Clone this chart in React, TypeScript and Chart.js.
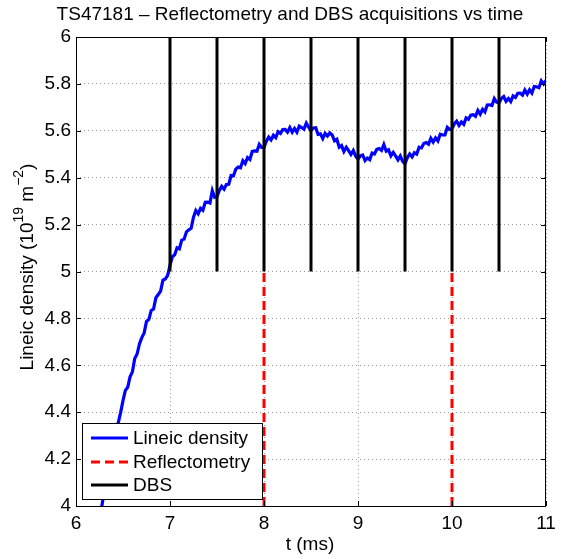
import React, { useEffect, useRef } from "react";
import { Chart, registerables } from "chart.js";

Chart.register(...registerables);

// ---- data ----
const densityStart = 6.2; // ms, first sample
const densityStep = 0.025; // ms between samples
const densityValues = [
  3.868, 3.904, 3.972, 4.0, 4.064, 4.096, 4.17, 4.202, 4.247, 4.325,
  4.356, 4.399, 4.449, 4.493, 4.506, 4.551, 4.572, 4.629, 4.648, 4.691,
  4.718, 4.738, 4.787, 4.796, 4.834, 4.84, 4.888, 4.902, 4.916, 4.963,
  4.968, 4.984, 5.026, 5.063, 5.071, 5.101, 5.097, 5.134, 5.138, 5.169,
  5.178, 5.184, 5.232, 5.26, 5.246, 5.269, 5.261, 5.295, 5.296, 5.292,
  5.345, 5.316, 5.319, 5.346, 5.363, 5.351, 5.371, 5.372, 5.409, 5.408,
  5.436, 5.445, 5.442, 5.472, 5.46, 5.486, 5.478, 5.512, 5.514, 5.513,
  5.542, 5.529, 5.529, 5.556, 5.573, 5.561, 5.581, 5.571, 5.596, 5.589,
  5.605, 5.606, 5.594, 5.614, 5.594, 5.61, 5.594, 5.62, 5.614, 5.607,
  5.633, 5.616, 5.601, 5.612, 5.613, 5.585, 5.587, 5.567, 5.589, 5.578,
  5.591, 5.582, 5.557, 5.564, 5.53, 5.537, 5.512, 5.53, 5.515, 5.499,
  5.516, 5.492, 5.479, 5.493, 5.497, 5.473, 5.484, 5.477, 5.505, 5.501,
  5.521, 5.524, 5.516, 5.541, 5.513, 5.519, 5.493, 5.508, 5.493, 5.476,
  5.493, 5.47, 5.459, 5.485, 5.501, 5.489, 5.507, 5.501, 5.53, 5.527,
  5.546, 5.55, 5.543, 5.568, 5.552, 5.57, 5.557, 5.585, 5.582, 5.582,
  5.615, 5.606, 5.609, 5.63, 5.641, 5.623, 5.638, 5.628, 5.655, 5.649,
  5.667, 5.669, 5.662, 5.687, 5.671, 5.692, 5.681, 5.71, 5.711, 5.708,
  5.737, 5.722, 5.719, 5.738, 5.746, 5.726, 5.738, 5.725, 5.749, 5.742,
  5.76, 5.761, 5.752, 5.774, 5.756, 5.775, 5.761, 5.789, 5.788, 5.784,
  5.813, 5.8, 5.815,
];
const reflectometryTimes = [8, 10];
const reflectometryRange = [4, 5];
const dbsTimes = [7, 7.5, 8, 8.5, 9, 9.5, 10, 10.5];
const dbsRange = [5, 6];
const xTickValues = [6, 7, 8, 9, 10, 11];
const yTickValues = [4, 4.2, 4.4, 4.6, 4.8, 5, 5.2, 5.4, 5.6, 5.8, 6];
const legendLabels = ["Lineic density", "Reflectometry", "DBS"];
const titleText = "TS47181 \u2013 Reflectometry and DBS acquisitions vs time";
const xLabel = "t (ms)";

const FONT = '"Liberation Sans", Arial, Helvetica, sans-serif';
const BLUE = "#0000ff";
const RED = "#ff0000";
const BLACK = "#000000";
const GRID = "#9a9a9a";

function verticalSegments(times: number[], range: number[]) {
  const pts: { x: number; y: number | null }[] = [];
  times.forEach((t) => {
    pts.push({ x: t, y: range[0] });
    pts.push({ x: t, y: range[1] });
    pts.push({ x: t, y: null });
  });
  return pts;
}

const decorPlugin = {
  id: "decor",
  afterDatasetsDraw(chart: any) {
    const { ctx, chartArea, scales } = chart;
    const { left, right, top, bottom } = chartArea;
    ctx.save();
    ctx.strokeStyle = BLACK;
    ctx.lineWidth = 1;
    ctx.setLineDash([]);
    ctx.strokeRect(left + 0.5, top + 0.5, right - left - 1, bottom - top);
    ctx.beginPath();
    xTickValues.forEach((v) => {
      const px = Math.round(scales.x.getPixelForValue(v)) + 0.5;
      ctx.moveTo(px, bottom);
      ctx.lineTo(px, bottom - 5);
      ctx.moveTo(px, top);
      ctx.lineTo(px, top + 5);
    });
    yTickValues.forEach((v) => {
      const py = Math.round(scales.y.getPixelForValue(v)) + 0.5;
      ctx.moveTo(left, py);
      ctx.lineTo(left + 5, py);
      ctx.moveTo(right, py);
      ctx.lineTo(right - 5, py);
    });
    ctx.stroke();
    ctx.restore();
  },
  afterDraw(chart: any) {
    const { ctx } = chart;
    ctx.save();
    // title
    ctx.fillStyle = BLACK;
    ctx.font = `19px ${FONT}`;
    ctx.textAlign = "center";
    ctx.textBaseline = "alphabetic";
    ctx.fillText(titleText, 290, 20);
    // x label
    ctx.fillText(xLabel, 310, 550);
    // y label with superscripts
    const parts = [
      { t: "Lineic density (10", sup: false },
      { t: "19", sup: true },
      { t: " m", sup: false },
      { t: "\u22122", sup: true },
      { t: ")", sup: false },
    ];
    const mainFont = `19px ${FONT}`;
    const supFont = `14px ${FONT}`;
    let total = 0;
    parts.forEach((p) => {
      ctx.font = p.sup ? supFont : mainFont;
      total += ctx.measureText(p.t).width;
    });
    ctx.translate(33, 267);
    ctx.rotate(-Math.PI / 2);
    ctx.textAlign = "left";
    let xx = -total / 2;
    parts.forEach((p) => {
      ctx.font = p.sup ? supFont : mainFont;
      ctx.fillText(p.t, xx, p.sup ? -10 : 0);
      xx += ctx.measureText(p.t).width;
    });
    ctx.restore();

    // legend box
    ctx.save();
    const bx = 82.5, by = 423.5, bw = 180, bh = 76;
    ctx.fillStyle = "#ffffff";
    ctx.fillRect(bx, by, bw, bh);
    ctx.strokeStyle = BLACK;
    ctx.lineWidth = 1;
    ctx.strokeRect(bx, by, bw, bh);
    const rows = [438, 462, 485];
    const colors = [BLUE, RED, BLACK];
    const dashes = [[], [9, 5], []];
    rows.forEach((ry, i) => {
      ctx.beginPath();
      ctx.strokeStyle = colors[i];
      ctx.lineWidth = 3;
      ctx.setLineDash(dashes[i]);
      ctx.moveTo(91, ry);
      ctx.lineTo(128, ry);
      ctx.stroke();
      ctx.setLineDash([]);
      ctx.fillStyle = BLACK;
      ctx.font = `19px ${FONT}`;
      ctx.textAlign = "left";
      ctx.textBaseline = "middle";
      ctx.fillText(legendLabels[i], 133, ry + 1);
    });
    ctx.restore();
  },
};

export default function App() {
  const canvasRef = useRef<HTMLCanvasElement | null>(null);

  useEffect(() => {
    document.body.style.margin = "0";
    const canvas = canvasRef.current;
    if (!canvas) return;
    const densityData = densityValues.map((v, i) => ({
      x: Math.round((densityStart + i * densityStep) * 1000) / 1000,
      y: v,
    }));
    const chart = new Chart(canvas, {
      type: "line",
      data: {
        datasets: [
          {
            label: legendLabels[0],
            data: densityData,
            borderColor: BLUE,
            borderWidth: 3.2,
            pointRadius: 0,
            tension: 0,
            order: 3,
          },
          {
            label: legendLabels[1],
            data: verticalSegments(reflectometryTimes, reflectometryRange),
            borderColor: RED,
            borderWidth: 3,
            borderDash: [9, 5],
            pointRadius: 0,
            spanGaps: false,
            order: 2,
          },
          {
            label: legendLabels[2],
            data: verticalSegments(dbsTimes, dbsRange),
            borderColor: BLACK,
            borderWidth: 3,
            pointRadius: 0,
            spanGaps: false,
            order: 1,
          },
        ],
      } as any,
      options: {
        animation: false,
        responsive: false,
        devicePixelRatio: 1,
        parsing: false as any,
        normalized: true,
        layout: { padding: { top: 37, right: 25, left: 0, bottom: 0 } },
        plugins: {
          legend: { display: false },
          title: { display: false },
          tooltip: { enabled: false },
        },
        elements: { point: { radius: 0 }, line: { tension: 0 } },
        scales: {
          x: {
            type: "linear",
            min: 6,
            max: 11,
            afterFit: (s: any) => {
              s.height = 53;
            },
            afterBuildTicks: (s: any) => {
              s.ticks = xTickValues.map((v) => ({ value: v }));
            },
            ticks: {
              font: { family: FONT, size: 19 },
              color: BLACK,
              padding: 6,
              maxRotation: 0,
              autoSkip: false,
              callback: (v: any) => String(v),
            },
            grid: { color: GRID, lineWidth: 1, drawTicks: false, borderDash: [1, 3] } as any,
            border: { display: false, dash: [1, 3] },
          },
          y: {
            type: "linear",
            min: 4,
            max: 6,
            afterFit: (s: any) => {
              s.width = 76;
            },
            afterBuildTicks: (s: any) => {
              s.ticks = yTickValues.map((v) => ({ value: v }));
            },
            ticks: {
              font: { family: FONT, size: 19 },
              color: BLACK,
              padding: 5,
              autoSkip: false,
              callback: (v: any) => String(Math.round(Number(v) * 10) / 10),
            },
            grid: { color: GRID, lineWidth: 1, drawTicks: false, borderDash: [1, 3] } as any,
            border: { display: false, dash: [1, 3] },
          },
        },
      } as any,
      plugins: [decorPlugin],
    });
    return () => chart.destroy();
  }, []);

  return (
    <div style={{ width: 571, height: 559, background: "#fff" }}>
      <canvas ref={canvasRef} width={571} height={559} style={{ display: "block" }} />
    </div>
  );
}
